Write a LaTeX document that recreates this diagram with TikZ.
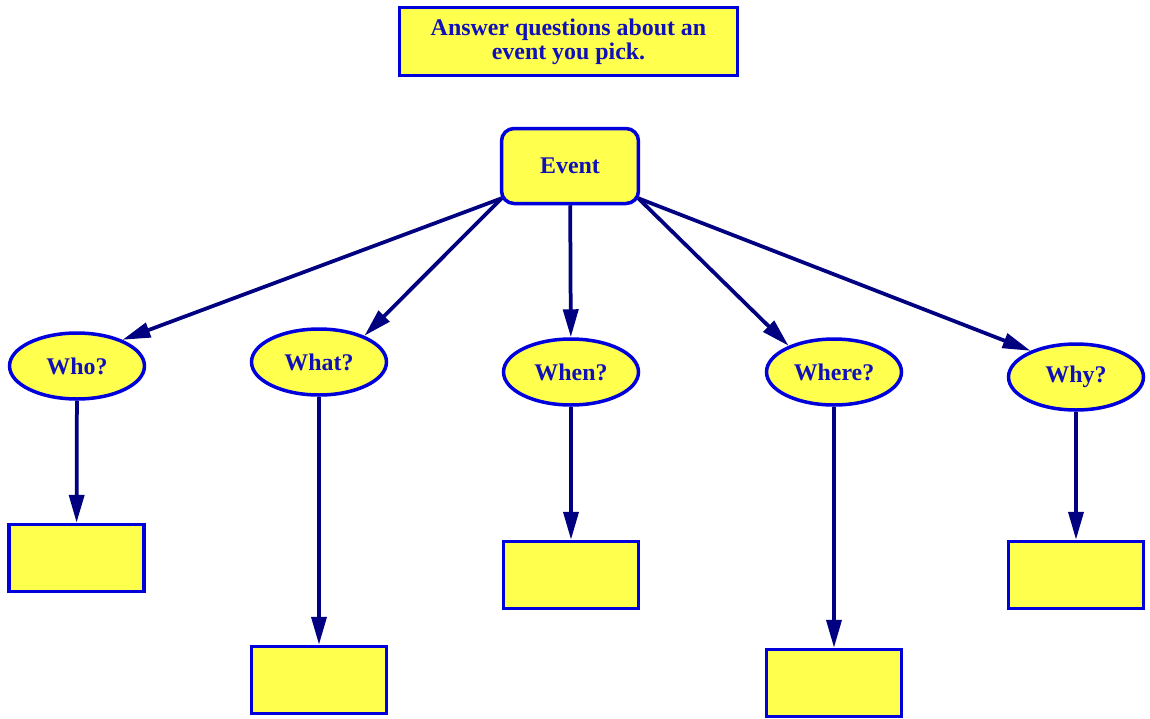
\documentclass[tikz,border=0pt]{standalone}
\usepackage{fontspec}
\setmainfont{Liberation Serif}
\usetikzlibrary{arrows.meta, positioning, shapes.geometric}

\definecolor{boxfill}{HTML}{FFFF4D}
\definecolor{boxline}{HTML}{0000DD}
\definecolor{boxtext}{HTML}{1010B8}
\definecolor{arrowline}{HTML}{000080}

\begin{document}
\begin{tikzpicture}[
    x=0.02cm, y=-0.02cm,
    base/.style={draw=boxline, fill=boxfill, line width=0.07cm, text=boxtext, font=\fontsize{13.6}{13.8}\selectfont\bfseries, align=center, inner sep=0pt},
    title/.style={base, rectangle, minimum width=6.76cm, minimum height=1.36cm},
    topic/.style={base, rectangle, rounded corners=0.25cm, minimum width=2.74cm, minimum height=1.5cm},
    question/.style={base, ellipse, minimum width=2.7cm, minimum height=1.32cm},
    answer/.style={base, rectangle, minimum width=2.7cm, minimum height=1.34cm},
    arrow/.style={-{Triangle[length=0.56cm, width=0.3cm]}, line width=0.075cm, draw=arrowline},
]
    \useasboundingbox (0,0) rectangle (1150,718);

    % Nodes
    \node[title] (task) at (568.5,41.5) {Answer questions about an\\event you pick.};
    \node[topic] (event) at (570,166) {Event};

    \node[question] (who) at (77,366) {Who?};
    \node[question] (what) at (319,362) {What?};
    \node[question] (when) at (571,372) {When?};
    \node[question] (where) at (834,372) {Where?};
    \node[question] (why) at (1076,377) {Why?};

    \node[answer] (whoans) at (76.5,558) {};
    \node[answer] (whatans) at (319,680) {};
    \node[answer] (whenans) at (571,575) {};
    \node[answer] (whereans) at (834,683) {};
    \node[answer] (whyans) at (1076,575) {};

    % Arrows
    \draw[arrow] ([shift={(2,-7)}]event.south west) -- (who.30);
    \draw[arrow] ([shift={(2,-7)}]event.south west) -- (what.30);
    \draw[arrow] (event) -- (when);
    \draw[arrow] ([shift={(-2,-7)}]event.south east) -- (where.150);
    \draw[arrow] ([shift={(-2,-7)}]event.south east) -- (why.150);

    \draw[arrow] (who) -- (whoans);
    \draw[arrow] (what) -- (whatans);
    \draw[arrow] (when) -- (whenans);
    \draw[arrow] (where) -- (whereans);
    \draw[arrow] (why) -- (whyans);
\end{tikzpicture}
\end{document}
